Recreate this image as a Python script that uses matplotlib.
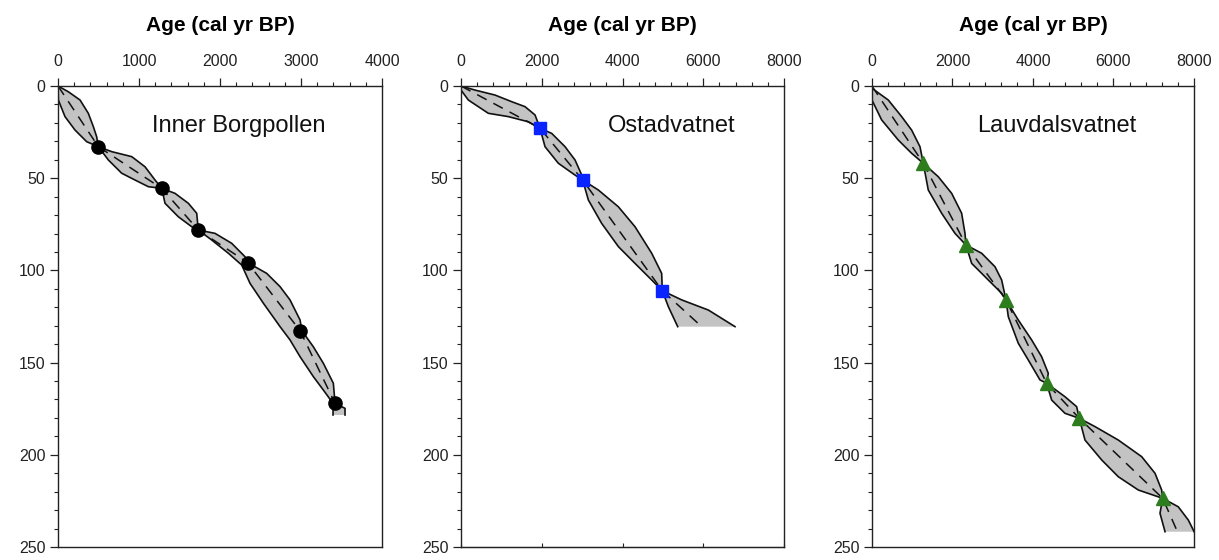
import matplotlib

matplotlib.use("Agg")
import matplotlib.pyplot as plt
from matplotlib.ticker import MultipleLocator, NullFormatter

plt.rcParams["font.family"] = ["Liberation Sans", "DejaVu Sans"]

# Inner Borgpollen: dated levels, age envelope (young / old edge) and median model
ib_dated_depth = [32.9, 55.5, 78.1, 95.8, 132.7, 172.1]
ib_dated_age = [498, 1280, 1732, 2342, 2988, 3420]
ib_min_depth = [0, 7.6, 16.6, 23.9, 30.2, 32.9, 40.1, 47.3, 51, 54.6, 55.5,
                63.6, 70.9, 76.3, 78.1, 83.5, 90.7, 97.1, 107, 117.8, 130.5,
                137.7, 146.8, 157.6, 164.9, 172.1, 178.4]
ib_min_age = [0, 4, 86, 210, 354, 498, 621, 786, 951, 1115, 1280,
              1321, 1485, 1650, 1732, 1897, 2103, 2268, 2370, 2535, 2741,
              2864, 2988, 3152, 3276, 3395, 3395]
ib_max_depth = [0, 3.1, 7.6, 14.8, 22, 27.5, 32.9, 35.6, 38.3, 43.8, 51, 55.5,
                58.2, 63.6, 69, 78.1, 79.9, 85.3, 92.6, 95.8, 101.6, 108.8, 116,
                126.9, 132.7, 141.4, 150.4, 161.2, 172.1, 174.8, 178.4]
ib_max_age = [0, 127, 272, 374, 436, 477, 498, 663, 910, 1074, 1198, 1280,
              1444, 1609, 1712, 1732, 1938, 2144, 2309, 2342, 2576, 2741, 2864,
              2988, 3010, 3152, 3276, 3399, 3420, 3543, 3543]
ib_med_depth = [0, 32.9, 55.5, 78.1, 95.8, 132.7, 172.1, 176]
ib_med_age = [0, 498, 1280, 1732, 2342, 2988, 3420, 3480]

# Ostadvatnet
os_dated_depth = [22.9, 51, 111]
os_dated_age = [1956, 3013, 4985]
os_min_depth = [0, 2.2, 7.6, 14.8, 16.6, 19.4, 22.9, 32.9, 41.9, 48.3, 51,
                61.8, 74.5, 87.1, 96.2, 105.2, 111, 119.7, 130.5]
os_min_age = [0, 0, 181, 676, 1172, 1667, 1956, 2080, 2410, 2823, 3013,
              3153, 3483, 3897, 4309, 4722, 4985, 5135, 5366]
os_max_depth = [0, 2.2, 4.9, 8.5, 11.2, 15.7, 22.9, 25.7, 32.9, 40.1, 47.4, 51,
                56.4, 65.5, 76.3, 90.7, 101.6, 111, 116, 121.5, 130.5]
os_max_age = [0, 347, 842, 1255, 1585, 1833, 1956, 2246, 2576, 2823, 2972, 3013,
              3401, 3897, 4309, 4722, 4969, 4985, 5466, 6126, 6786]
os_med_depth = [0, 22.9, 51, 111, 130.5]
os_med_age = [0, 1956, 3013, 4985, 5960]

# Lauvdalsvatnet
lv_dated_depth = [41.9, 86.2, 116, 161.2, 180.2, 223.6]
lv_dated_age = [1275, 2335, 3330, 4340, 5150, 7222]
lv_min_depth = [0, 7.6, 18.4, 29.3, 36.5, 41.9, 56.4, 69, 79.9, 86.2, 96.2,
                105.2, 112.4, 116, 125.1, 139.5, 148.6, 159.4, 161.2, 170.3,
                177.5, 180.2, 192, 202.8, 211.9, 219.1, 223.6, 231.7, 241.7]
lv_min_age = [0, 0, 241, 654, 986, 1275, 1399, 1731, 2062, 2335, 2477,
              2890, 3222, 3330, 3387, 3635, 3884, 4174, 4340, 4464,
              4795, 5150, 5292, 5707, 6120, 6617, 7222, 7155, 7280]
lv_max_depth = [0, 1.2, 7.6, 16.6, 23.9, 32.9, 41.9, 49.2, 58.2, 69, 79.9, 86.2,
                90.7, 98, 105.2, 116, 126.9, 137.7, 146.8, 155.8, 161.2, 168.5,
                173.9, 180.2, 184.7, 192, 201, 210, 219.1, 223.6, 228.2, 235.4,
                240.8, 241.7]
lv_max_age = [0, 0, 406, 738, 986, 1193, 1275, 1648, 1980, 2228, 2311, 2335,
              2725, 3056, 3222, 3330, 3635, 3967, 4215, 4380, 4340, 4795,
              5085, 5150, 5540, 6120, 6700, 7031, 7197, 7222, 7610, 7859,
              7983, 8000]
lv_med_depth = [0, 41.9, 86.2, 116, 161.2, 180.2, 223.6, 240.8]
lv_med_age = [0, 1275, 2335, 3330, 4340, 5150, 7222, 7570]

site_names = ["Inner Borgpollen", "Ostadvatnet", "Lauvdalsvatnet"]
age_max = [4000, 8000, 8000]
age_major = [1000, 2000, 2000]
age_minor = [200, 400, 400]
depth_ticks = [0, 50, 100, 150, 200, 250]

panels = [
    (ib_dated_age, ib_dated_depth, ib_min_age, ib_min_depth,
     ib_max_age, ib_max_depth, ib_med_age, ib_med_depth),
    (os_dated_age, os_dated_depth, os_min_age, os_min_depth,
     os_max_age, os_max_depth, os_med_age, os_med_depth),
    (lv_dated_age, lv_dated_depth, lv_min_age, lv_min_depth,
     lv_max_age, lv_max_depth, lv_med_age, lv_med_depth),
]

marker_styles = [
    dict(marker="o", color="black", markersize=9.5),
    dict(marker="s", color="#0a24ff", markersize=9),
    dict(marker="^", color="#2d7d1e", markersize=10),
]
axes_rects = [
    [0.0476, 0.0232, 0.2658, 0.8232],
    [0.3782, 0.0232, 0.2650, 0.8232],
    [0.7153, 0.0232, 0.2642, 0.8232],
]
label_x = [0.29, 0.455, 0.326]
bottom_ticks = [False, True, False]

fig = plt.figure(figsize=(12.19, 5.6), dpi=100)

for i, data in enumerate(panels):
    dated_age, dated_depth, min_age, min_depth, max_age, max_depth, med_age, med_depth = data
    ax = fig.add_axes(axes_rects[i])

    # envelope: down the young edge, back up the old edge
    poly_x = list(min_age) + list(max_age)[::-1]
    poly_y = list(min_depth) + list(max_depth)[::-1]
    ax.fill(poly_x, poly_y, facecolor="#c3c3c3", edgecolor="none", zorder=1)
    ax.plot(min_age, min_depth, color="#111111", lw=1.2, zorder=2)
    ax.plot(max_age, max_depth, color="#111111", lw=1.2, zorder=2)
    ax.plot(med_age, med_depth, color="#111111", lw=1.1, ls=(0, (7, 5)), zorder=2)
    ax.plot(dated_age, dated_depth, ls="none", zorder=3, **marker_styles[i])

    ax.set_xlim(0, age_max[i])
    ax.set_ylim(250, 0)
    ax.xaxis.set_major_locator(MultipleLocator(age_major[i]))
    ax.xaxis.set_minor_locator(MultipleLocator(age_minor[i]))
    ax.set_yticks(depth_ticks)
    ax.yaxis.set_minor_locator(MultipleLocator(10))
    ax.xaxis.tick_top()
    ax.xaxis.set_label_position("top")
    ax.tick_params(which="major", direction="out", length=6, width=0.9,
                   labelsize=11.5, colors="#222222")
    ax.tick_params(which="minor", direction="out", length=3, width=0.8,
                   colors="#222222")
    ax.tick_params(axis="x", pad=6)
    ax.tick_params(axis="y", pad=3)
    for spine in ax.spines.values():
        spine.set_linewidth(1.0)
        spine.set_color("#222222")

    if bottom_ticks[i]:
        sec = ax.secondary_xaxis("bottom")
        sec.xaxis.set_major_locator(MultipleLocator(age_major[i]))
        sec.xaxis.set_major_formatter(NullFormatter())
        sec.tick_params(direction="in", length=3, width=0.8, colors="#222222")
        sec.spines["bottom"].set_color("#222222")

    ax.set_xlabel("Age (cal yr BP)", fontsize=15, fontweight="bold", labelpad=17)
    ax.text(label_x[i], 0.901, site_names[i], transform=ax.transAxes,
            fontsize=17, ha="left", va="baseline", color="#111111")

fig.savefig("out.png", dpi=100)
